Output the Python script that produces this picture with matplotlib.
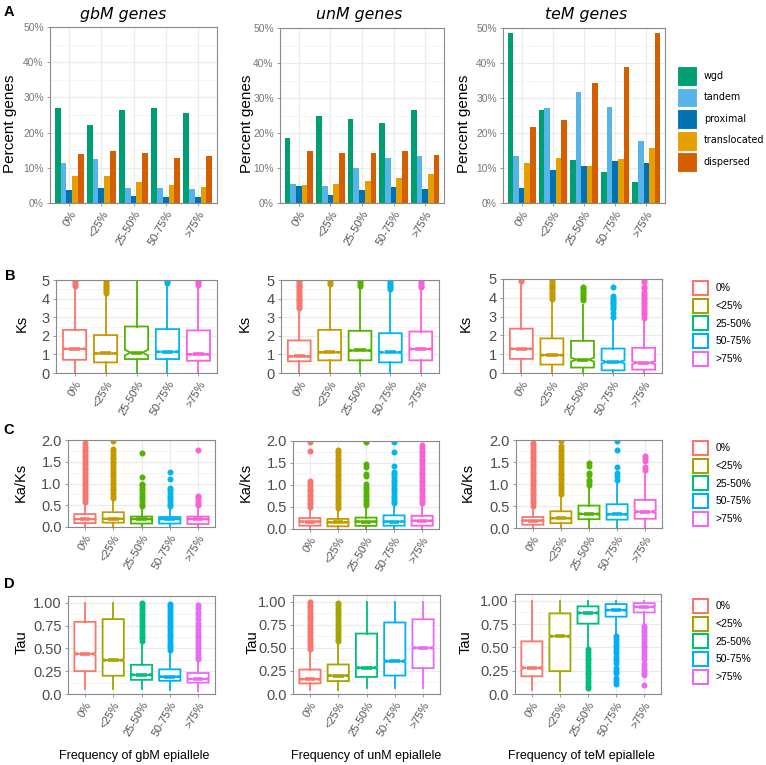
import numpy as np
import matplotlib.pyplot as plt
from matplotlib.patches import Patch
from matplotlib.ticker import MultipleLocator

plt.rcParams['font.family'] = ['Liberation Sans', 'DejaVu Sans']

W, H = 766, 765

categories = ["0%", "<25%", "25-50%", "50-75%", ">75%"]
groups = ["gbM", "unM", "teM"]

# ---- row A: percent genes per duplication type (rows = types, cols = categories)
dup_types = ["wgd", "tandem", "proximal", "translocated", "dispersed"]
dup_colors = ["#009E73", "#56B4E9", "#0072B2", "#E69F00", "#D55E00"]

gbm_percent = [
    [26.9, 22.3, 26.3, 26.9, 25.6],
    [11.4, 12.6, 4.3, 4.3, 3.9],
    [3.6, 4.4, 2.1, 1.7, 1.6],
    [7.6, 7.6, 6.0, 5.2, 4.6],
    [13.8, 14.9, 14.3, 12.8, 13.3],
]
unm_percent = [
    [18.5, 24.8, 24.0, 23.0, 26.7],
    [5.5, 5.0, 10.0, 12.8, 13.5],
    [5.0, 2.2, 3.8, 4.5, 4.0],
    [5.2, 5.5, 6.2, 7.2, 8.3],
    [14.8, 14.4, 14.4, 15.0, 13.8],
]
tem_percent = [
    [48.7, 26.6, 12.3, 8.8, 5.9],
    [13.5, 27.1, 31.7, 27.3, 17.8],
    [4.4, 9.3, 10.6, 12.0, 11.5],
    [11.3, 13.0, 10.6, 12.5, 15.6],
    [21.7, 23.8, 34.4, 38.9, 48.5],
]

# ---- row B: Ks box statistics
ks_gbm_q1 = [0.71, 0.57, 0.75, 0.75, 0.66]
ks_gbm_med = [1.30, 1.05, 1.10, 1.14, 1.00]
ks_gbm_q3 = [2.32, 2.04, 2.50, 2.36, 2.29]
ks_gbm_lo = [0.0, 0.0, 0.0, 0.0, 0.0]
ks_gbm_hi = [4.65, 4.20, 5.00, 4.75, 4.65]
ks_gbm_ci = [0.04, 0.04, 0.15, 0.05, 0.04]
ks_gbm_out = [
    [4.7, 4.8, 4.9, 5.0],
    [4.3, 4.4, 4.5, 4.6, 4.7, 4.8, 4.9, 5.0],
    [],
    [4.85, 4.95, 5.0],
    [4.75, 4.85, 4.95, 5.0],
]

ks_unm_q1 = [0.63, 0.68, 0.68, 0.57, 0.68]
ks_unm_med = [0.89, 1.11, 1.21, 1.11, 1.29]
ks_unm_q3 = [1.75, 2.32, 2.27, 2.14, 2.23]
ks_unm_lo = [0.0, 0.0, 0.0, 0.0, 0.0]
ks_unm_hi = [3.45, 4.70, 4.65, 4.40, 4.50]
ks_unm_ci = [0.04, 0.04, 0.05, 0.05, 0.04]
ks_unm_out = [
    [3.5, 3.6, 3.7, 3.8, 3.9, 4.0, 4.1, 4.2, 4.3, 4.4, 4.5, 4.6, 4.7, 4.8, 4.9, 5.0],
    [4.8, 4.9, 5.0],
    [4.7, 4.8, 4.9, 5.0],
    [4.5, 4.6, 4.7, 4.8, 4.9, 5.0],
    [4.6, 4.7, 4.8, 4.9, 5.0],
]

ks_tem_q1 = [0.75, 0.45, 0.29, 0.14, 0.18]
ks_tem_med = [1.29, 0.95, 0.71, 0.59, 0.55]
ks_tem_q3 = [2.36, 1.84, 1.71, 1.30, 1.34]
ks_tem_lo = [0.0, 0.0, 0.0, 0.0, 0.0]
ks_tem_hi = [4.80, 3.90, 3.60, 2.80, 2.85]
ks_tem_ci = [0.04, 0.04, 0.10, 0.08, 0.08]
ks_tem_out = [
    [4.9, 5.0],
    [3.95, 4.05, 4.15, 4.25, 4.35, 4.45, 4.55, 4.65, 4.75, 4.85, 4.95],
    [3.9, 4.0, 4.1, 4.2, 4.3, 4.4, 4.5, 4.6],
    [3.0, 3.2, 3.4, 3.5, 3.6, 3.7, 3.8, 3.9, 4.0, 4.1, 4.6],
    [2.95, 3.1, 3.2, 3.3, 3.4, 3.5, 3.6, 3.7, 3.8, 3.9, 4.0, 4.1, 4.2, 4.3,
     4.5, 4.6, 4.85, 4.95],
]

# ---- row C: Ka/Ks box statistics
kaks_gbm_q1 = [0.09, 0.10, 0.08, 0.08, 0.07]
kaks_gbm_med = [0.18, 0.19, 0.18, 0.18, 0.18]
kaks_gbm_q3 = [0.30, 0.34, 0.24, 0.23, 0.24]
kaks_gbm_lo = [0.0, 0.0, 0.0, 0.0, 0.0]
kaks_gbm_hi = [0.55, 0.62, 0.45, 0.45, 0.45]
kaks_gbm_ci = [0.01, 0.01, 0.01, 0.01, 0.01]
kaks_gbm_out = [
    [0.58, 0.64, 0.70, 0.76, 0.82, 0.88, 0.94, 1.00, 1.06, 1.12, 1.18, 1.24,
     1.30, 1.36, 1.42, 1.48, 1.54, 1.60, 1.66, 1.72, 1.78, 1.84, 1.92],
    [0.66, 0.72, 0.78, 0.84, 0.90, 0.96, 1.02, 1.08, 1.14, 1.20, 1.26, 1.32,
     1.38, 1.44, 1.50, 1.56, 1.62, 1.68, 1.74, 1.80, 1.97],
    [0.48, 0.54, 0.60, 0.66, 0.72, 0.78, 0.84, 0.90, 0.96, 1.00, 1.16, 1.70],
    [0.48, 0.54, 0.60, 0.66, 0.72, 0.78, 0.84, 0.90, 1.10, 1.27],
    [0.50, 0.56, 0.62, 0.68, 0.72, 1.78],
]

kaks_unm_q1 = [0.075, 0.06, 0.07, 0.075, 0.075]
kaks_unm_med = [0.17, 0.15, 0.17, 0.17, 0.19]
kaks_unm_q3 = [0.25, 0.23, 0.26, 0.31, 0.30]
kaks_unm_lo = [0.0, 0.0, 0.0, 0.0, 0.0]
kaks_unm_hi = [0.48, 0.45, 0.50, 0.55, 0.55]
kaks_unm_ci = [0.01, 0.01, 0.01, 0.01, 0.01]
kaks_unm_out = [
    [0.50, 0.56, 0.62, 0.68, 0.74, 0.80, 0.86, 0.92, 0.98, 1.04, 1.10, 1.78, 1.98],
    [0.48, 0.54, 0.60, 0.66, 0.72, 0.78, 0.84, 0.90, 0.96, 1.02, 1.08, 1.14,
     1.20, 1.26, 1.32, 1.38, 1.44, 1.50, 1.56, 1.62, 1.68, 1.74, 1.80],
    [0.54, 0.60, 0.66, 0.72, 0.78, 0.84, 0.90, 0.96, 1.02, 1.20, 1.25, 1.42,
     1.48, 1.98],
    [0.58, 0.64, 0.70, 0.76, 0.82, 0.88, 0.94, 1.00, 1.06, 1.12, 1.18, 1.24,
     1.30, 1.44, 1.74, 1.98],
    [0.58, 0.64, 0.70, 0.76, 0.82, 0.88, 0.94, 1.00, 1.06, 1.12, 1.18, 1.24,
     1.30, 1.36, 1.42, 1.48, 1.54, 1.60, 1.66, 1.72, 1.78, 1.84, 1.92],
]

kaks_tem_q1 = [0.075, 0.11, 0.20, 0.19, 0.21]
kaks_tem_med = [0.17, 0.22, 0.32, 0.31, 0.37]
kaks_tem_q3 = [0.25, 0.38, 0.51, 0.54, 0.64]
kaks_tem_lo = [0.0, 0.0, 0.0, 0.0, 0.0]
kaks_tem_hi = [0.48, 0.75, 0.95, 1.05, 1.25]
kaks_tem_ci = [0.01, 0.015, 0.02, 0.02, 0.025]
kaks_tem_out = [
    [0.50, 0.56, 0.62, 0.68, 0.74, 0.80, 0.86, 0.92, 0.98, 1.04, 1.10, 1.16,
     1.22, 1.28, 1.34, 1.40, 1.46, 1.52, 1.58, 1.64, 1.70, 1.76, 1.82, 1.88, 1.93],
    [0.78, 0.84, 0.90, 0.96, 1.02, 1.08, 1.14, 1.20, 1.26, 1.32, 1.38, 1.44,
     1.50, 1.56, 1.62, 1.68, 1.74, 1.80, 1.86, 1.97],
    [0.98, 1.04, 1.10, 1.20, 1.25, 1.42, 1.48],
    [1.08, 1.18, 1.24, 1.38, 1.77, 1.98],
    [1.32, 1.38, 1.52, 1.58, 1.64],
]

# ---- row D: Tau box statistics
tau_gbm_q1 = [0.25, 0.20, 0.155, 0.145, 0.125]
tau_gbm_med = [0.44, 0.37, 0.21, 0.19, 0.165]
tau_gbm_q3 = [0.79, 0.82, 0.32, 0.27, 0.23]
tau_gbm_lo = [0.06, 0.06, 0.05, 0.04, 0.03]
tau_gbm_hi = [1.0, 1.0, 0.57, 0.46, 0.36]
tau_gbm_ci = [0.012, 0.012, 0.01, 0.008, 0.008]
tau_gbm_out = [
    [],
    [],
    [0.58, 0.61, 0.64, 0.67, 0.70, 0.73, 0.76, 0.79, 0.82, 0.85, 0.88, 0.91,
     0.94, 0.97, 1.00],
    [0.48, 0.51, 0.54, 0.57, 0.60, 0.63, 0.66, 0.69, 0.72, 0.75, 0.78, 0.81,
     0.84, 0.87, 0.90, 0.93, 0.96, 0.99],
    [0.38, 0.41, 0.44, 0.47, 0.50, 0.53, 0.56, 0.59, 0.62, 0.65, 0.68, 0.71,
     0.74, 0.78, 0.82, 0.86, 0.90, 0.94, 0.97],
]

tau_unm_q1 = [0.115, 0.14, 0.185, 0.20, 0.28]
tau_unm_med = [0.16, 0.20, 0.285, 0.355, 0.50]
tau_unm_q3 = [0.265, 0.32, 0.655, 0.775, 0.81]
tau_unm_lo = [0.04, 0.04, 0.06, 0.06, 0.06]
tau_unm_hi = [0.47, 0.55, 1.0, 1.0, 1.0]
tau_unm_ci = [0.008, 0.01, 0.012, 0.012, 0.012]
tau_unm_out = [
    [0.49, 0.52, 0.55, 0.58, 0.61, 0.64, 0.67, 0.70, 0.73, 0.76, 0.79, 0.82,
     0.85, 0.88, 0.91, 0.94, 0.97, 1.00],
    [0.57, 0.60, 0.63, 0.66, 0.69, 0.72, 0.75, 0.78, 0.81, 0.84, 0.87, 0.90,
     0.93, 0.96, 0.99],
    [],
    [],
    [],
]

tau_tem_q1 = [0.19, 0.245, 0.755, 0.83, 0.875]
tau_tem_med = [0.28, 0.62, 0.87, 0.90, 0.935]
tau_tem_q3 = [0.565, 0.865, 0.94, 0.965, 0.975]
tau_tem_lo = [0.04, 0.03, 0.52, 0.64, 0.74]
tau_tem_hi = [1.0, 1.0, 1.0, 1.0, 1.0]
tau_tem_ci = [0.012, 0.012, 0.01, 0.008, 0.008]
tau_tem_out = [
    [],
    [],
    [0.06, 0.09, 0.12, 0.15, 0.18, 0.21, 0.24, 0.27, 0.30, 0.33, 0.36, 0.39,
     0.42, 0.45, 0.48],
    [0.11, 0.14, 0.17, 0.22, 0.25, 0.28, 0.33, 0.36, 0.40, 0.44, 0.47, 0.50,
     0.53, 0.56, 0.59, 0.62],
    [0.10, 0.20, 0.23, 0.26, 0.29, 0.32, 0.38, 0.41, 0.44, 0.47, 0.50, 0.53,
     0.56, 0.59, 0.62, 0.65, 0.68, 0.71, 0.73],
]

box_colors_bc = ["#F8766D", "#C49A00", "#53B400", "#00B6EB", "#FB61D7"]
box_colors_d = ["#F8766D", "#A3A500", "#00BF7D", "#00B0F6", "#E76BF3"]
legend_colors = ["#F8766D", "#A3A500", "#00BF7D", "#00B0F6", "#E76BF3"]

GRID = "#EBEBEB"
GRID_MINOR = "#F4F4F4"
BORDER = "#8A8A8A"


def px_axes(fig, left, top, right, bottom):
    return fig.add_axes([left / W, 1 - bottom / H, (right - left) / W, (bottom - top) / H])


def style_axes(ax, ytick_size, ytick_color):
    ax.set_axisbelow(True)
    ax.grid(True, which="major", color=GRID, lw=0.9)
    ax.grid(True, which="minor", axis="y", color=GRID_MINOR, lw=0.6)
    for s in ax.spines.values():
        s.set_color(BORDER)
        s.set_linewidth(0.8)
    ax.set_xlim(0.4, 5.6)
    ax.set_xticks(range(1, 6))
    ax.set_xticklabels(categories, rotation=60, ha="right", va="top",
                       rotation_mode="anchor", fontsize=8, color="#555555")
    ax.tick_params(axis="both", which="major", length=2.5, width=0.6, color=BORDER, pad=2)
    ax.tick_params(axis="y", labelsize=ytick_size, labelcolor=ytick_color)
    ax.tick_params(axis="both", which="minor", length=0)


def draw_boxes(ax, q1, med, q3, lo, hi, ci, out, colors):
    for i in range(5):
        st = dict(med=med[i], q1=q1[i], q3=q3[i], whislo=lo[i], whishi=hi[i],
                  cilo=med[i] - ci[i], cihi=med[i] + ci[i], fliers=out[i])
        c = colors[i]
        ax.bxp([st], positions=[i + 1], widths=0.75, shownotches=True,
               showcaps=False, patch_artist=True, manage_ticks=False,
               boxprops=dict(facecolor="white", edgecolor=c, linewidth=1.3),
               medianprops=dict(color=c, linewidth=2.6, solid_capstyle="butt"),
               whiskerprops=dict(color=c, linewidth=1.3),
               flierprops=dict(marker="o", markerfacecolor=c, markeredgecolor=c,
                               markersize=3.3, linestyle="none"))


fig = plt.figure(figsize=(W / 100, H / 100), dpi=100)

# ---------------- Row A: bars
bar_panels = [gbm_percent, unm_percent, tem_percent]
bar_rects = [(50, 27, 217, 203), (280, 28, 444, 203), (503, 28, 665, 203)]
title_x = [123, 359, 586]
ylab_a_x = [10, 247, 464]
x = np.arange(1, 6)
for p, (vals, rect) in enumerate(zip(bar_panels, bar_rects)):
    ax = px_axes(fig, *rect)
    for j, tname in enumerate(dup_types):
        ax.bar(x + (j - 2) * 0.18, vals[j], width=0.18, color=dup_colors[j], label=tname)
    ax.set_ylim(0, 50)
    ax.set_yticks([0, 10, 20, 30, 40, 50])
    ax.set_yticklabels(["0%", "10%", "20%", "30%", "40%", "50%"])
    ax.yaxis.set_minor_locator(MultipleLocator(5))
    style_axes(ax, 7.4, "#777777")
    fig.text(title_x[p] / W, 1 - 14 / H, f"{groups[p]} genes", family="DejaVu Sans",
             style="italic", fontsize=11.3, ha="center", va="center")
    fig.text(ylab_a_x[p] / W, 1 - 124 / H, "Percent genes", rotation=90,
             fontsize=11, ha="center", va="center")

fig.legend(handles=[Patch(facecolor=c, edgecolor="white", lw=0.8, label=t)
                    for c, t in zip(dup_colors, dup_types)],
           loc="upper left", bbox_to_anchor=(677 / W, 1 - 66 / H), frameon=False,
           prop=dict(family="DejaVu Sans", size=6.9), handlelength=2.1,
           handleheight=2.83, labelspacing=0.16, handletextpad=0.7,
           borderpad=0, borderaxespad=0)

# ---------------- Rows B-D: boxes
box_rows = [
    dict(rects=[(56, 280, 217, 373), (281, 280, 439, 373), (503, 279, 662, 373)],
         ylim=(0, 5), yticks=[0, 1, 2, 3, 4, 5], ylabels=["0", "1", "2", "3", "4", "5"],
         minor=0.5, label="Ks", label_x=[22, 245, 466], label_y=323, colors=box_colors_bc,
         legend_top=281,
         data=[(ks_gbm_q1, ks_gbm_med, ks_gbm_q3, ks_gbm_lo, ks_gbm_hi, ks_gbm_ci, ks_gbm_out),
               (ks_unm_q1, ks_unm_med, ks_unm_q3, ks_unm_lo, ks_unm_hi, ks_unm_ci, ks_unm_out),
               (ks_tem_q1, ks_tem_med, ks_tem_q3, ks_tem_lo, ks_tem_hi, ks_tem_ci, ks_tem_out)]),
    dict(rects=[(68, 440, 215, 527), (293, 441, 439, 529), (516, 440, 662, 528)],
         ylim=(0, 2), yticks=[0, 0.5, 1, 1.5, 2], ylabels=["0.0", "0.5", "1.0", "1.5", "2.0"],
         minor=0.25, label="Ka/Ks", label_x=[21, 246, 468], label_y=482, colors=box_colors_bc,
         legend_top=441,
         data=[(kaks_gbm_q1, kaks_gbm_med, kaks_gbm_q3, kaks_gbm_lo, kaks_gbm_hi, kaks_gbm_ci, kaks_gbm_out),
               (kaks_unm_q1, kaks_unm_med, kaks_unm_q3, kaks_unm_lo, kaks_unm_hi, kaks_unm_ci, kaks_unm_out),
               (kaks_tem_q1, kaks_tem_med, kaks_tem_q3, kaks_tem_lo, kaks_tem_hi, kaks_tem_ci, kaks_tem_out)]),
    dict(rects=[(68, 596, 215, 694), (293, 595, 440, 694), (515, 594, 661, 694)],
         ylim=(0, 1.073), yticks=[0, 0.25, 0.5, 0.75, 1.0],
         ylabels=["0.0", "0.25", "0.50", "0.75", "1.00"],
         minor=0.125, label="Tau", label_x=[22, 253, 466], label_y=642, colors=box_colors_d,
         legend_top=599,
         data=[(tau_gbm_q1, tau_gbm_med, tau_gbm_q3, tau_gbm_lo, tau_gbm_hi, tau_gbm_ci, tau_gbm_out),
               (tau_unm_q1, tau_unm_med, tau_unm_q3, tau_unm_lo, tau_unm_hi, tau_unm_ci, tau_unm_out),
               (tau_tem_q1, tau_tem_med, tau_tem_q3, tau_tem_lo, tau_tem_hi, tau_tem_ci, tau_tem_out)]),
]

for row in box_rows:
    for p in range(3):
        ax = px_axes(fig, *row["rects"][p])
        draw_boxes(ax, *row["data"][p], row["colors"])
        ax.set_ylim(*row["ylim"])
        ax.set_yticks(row["yticks"])
        ax.set_yticklabels(row["ylabels"])
        ax.yaxis.set_minor_locator(MultipleLocator(row["minor"]))
        style_axes(ax, 10.5, "#4D4D4D")
        fig.text(row["label_x"][p] / W, 1 - row["label_y"] / H, row["label"],
                 rotation=90, fontsize=10.5, ha="center", va="center")
    fig.legend(handles=[Patch(facecolor="white", edgecolor=c, lw=1.5, label=t)
                        for c, t in zip(legend_colors, categories)],
               loc="upper left", bbox_to_anchor=(693 / W, 1 - row["legend_top"] / H),
               frameon=False, fontsize=7.5, handlelength=1.45, handleheight=1.72,
               labelspacing=0.33, handletextpad=0.7, borderpad=0, borderaxespad=0)

# x axis titles
xlab_x = [134, 366, 581]
for p in range(3):
    fig.text(xlab_x[p] / W, 1 - 756 / H, f"Frequency of {groups[p]} epiallele",
             fontsize=9, ha="center", va="center")

# panel letters
for letter, (lx, ly) in zip("ABCD", [(9, 12), (10, 276), (9, 430), (9, 584)]):
    fig.text(lx / W, 1 - ly / H, letter, fontsize=10.5, fontweight="bold",
             ha="center", va="center")

fig.savefig("out.png", dpi=100)
